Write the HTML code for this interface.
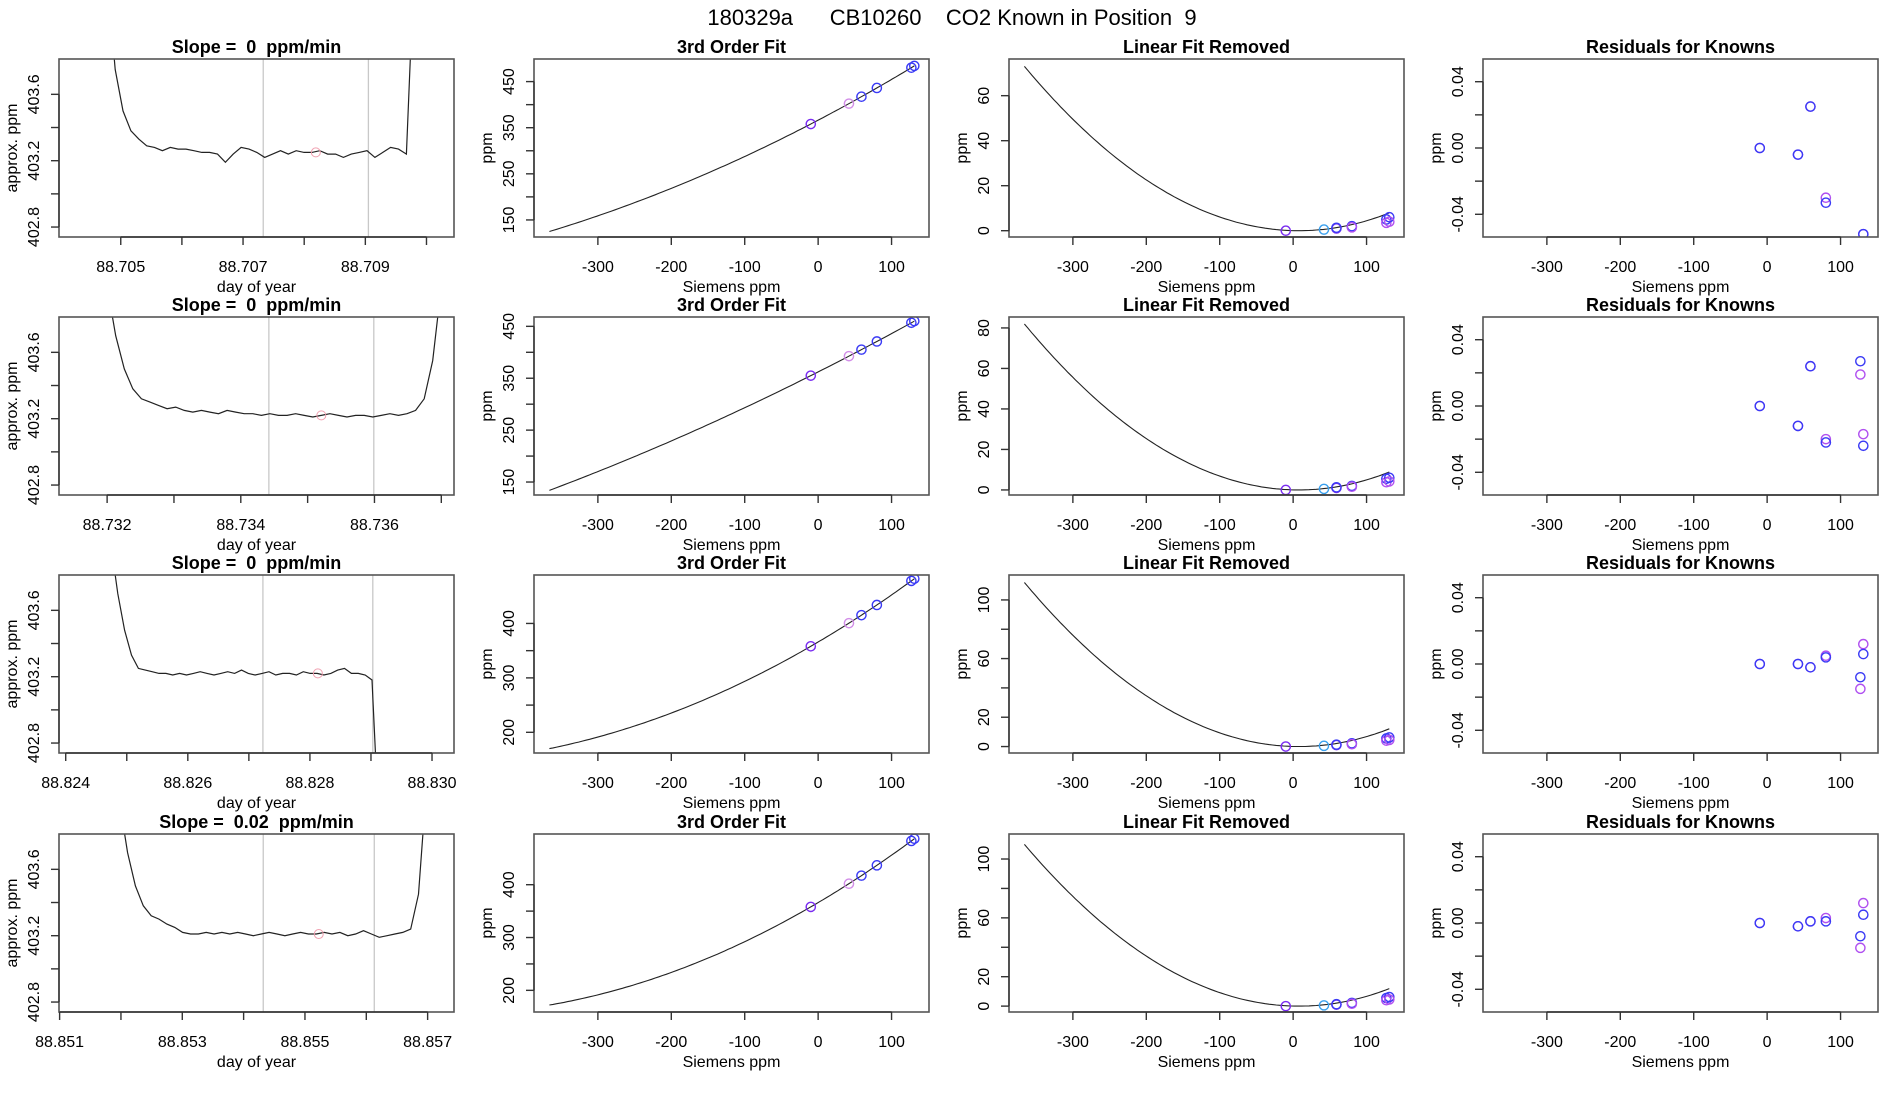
<!DOCTYPE html>
<html><head><meta charset="utf-8">
<style>
html,body{margin:0;padding:0;background:#fff;}
svg{display:block;font-family:"Liberation Sans",Arial,sans-serif;}
text{white-space:pre;}
</style></head>
<body>
<svg id="chart" width="1900" height="1100" viewBox="0 0 1900 1100" xmlns="http://www.w3.org/2000/svg" xml:space="preserve">
<rect x="0" y="0" width="1900" height="1100" fill="#fff"/>
<text x="952" y="25" font-size="22" text-anchor="middle" fill="#000">180329a      CB10260    CO2 Known in Position  9</text>
</svg>
<script>
// ---------- data ----------
const slopeTitles = ["Slope =  0  ppm/min","Slope =  0  ppm/min","Slope =  0  ppm/min","Slope =  0.02  ppm/min"];
const timeDomains = [[88.70399,88.71045],[88.73128,88.73719],[88.82389,88.83036],[88.85099,88.85743]];
const timeTicks = [
 [88.705,88.706,88.707,88.708,88.709,88.710],
 [88.732,88.733,88.734,88.735,88.736,88.737],
 [88.824,88.825,88.826,88.827,88.828,88.829,88.830],
 [88.851,88.852,88.853,88.854,88.855,88.856,88.857]];
const timeTickLabels = [
 ["88.705","","88.707","","88.709",""],
 ["88.732","","88.734","","88.736",""],
 ["88.824","","88.826","","88.828","","88.830"],
 ["88.851","","88.853","","88.855","","88.857"]];
const traceStart = [88.70478,88.73200,88.82474,88.85198];
const traceEnd = [88.70980,88.73700,88.82913,88.85698];
const traceValues1 = [404.3,403.75,403.5,403.38,403.33,403.29,403.28,403.26,403.28,403.27,403.27,403.26,403.25,403.25,403.24,403.19,403.24,403.28,403.27,403.25,403.22,403.24,403.26,403.24,403.26,403.25,403.25,403.26,403.24,403.24,403.22,403.24,403.25,403.26,403.22,403.25,403.28,403.27,403.24,404.4];
const traceValues2 = [404.0,403.7,403.5,403.38,403.32,403.3,403.28,403.26,403.27,403.25,403.24,403.25,403.24,403.23,403.25,403.24,403.23,403.23,403.22,403.23,403.22,403.22,403.23,403.22,403.21,403.22,403.23,403.22,403.21,403.22,403.22,403.21,403.22,403.23,403.22,403.23,403.25,403.32,403.55,404.0];
const traceValues3 = [404.0,403.7,403.48,403.33,403.25,403.24,403.23,403.22,403.22,403.21,403.22,403.21,403.22,403.23,403.22,403.21,403.22,403.23,403.22,403.24,403.22,403.21,403.22,403.23,403.21,403.22,403.22,403.21,403.23,403.22,403.22,403.21,403.22,403.24,403.25,403.22,403.22,403.21,403.18,402.3];
const traceValues4 = [404.0,403.7,403.5,403.38,403.32,403.3,403.27,403.25,403.22,403.21,403.21,403.22,403.21,403.22,403.21,403.22,403.21,403.2,403.21,403.22,403.21,403.2,403.21,403.22,403.21,403.21,403.22,403.21,403.22,403.2,403.21,403.23,403.21,403.19,403.2,403.21,403.22,403.24,403.45,404.1];
const gateLines = [[88.70733,88.70905],[88.73442,88.73599],[88.82723,88.82903],[88.85432,88.85613]];
const concDomain = [402.74,403.813];
const concTicks = [402.8,403.0,403.2,403.4,403.6];
const concTickLabels = ["402.8","","403.2","","403.6"];

const siemensDomain = [-387,151];
const siemensTicks = [-300,-200,-100,0,100];
const siemensTickLabels = ["-300","-200","-100","0","100"];
const curveRange = [-366,131];
const fitCoefA = [366.3,362.1,365.9,366.1];
const fitCoefB = [0.8355,0.7145,0.794,0.819];
const fitCoefC = [0.000481,0.000249,0.000707,0.00079];
const fitDomains = [[113,499],[125,468],[162,489],[159,496]];
const fitTicks = [[150,200,250,300,350,400,450],[150,200,250,300,350,400,450],[200,250,300,350,400],[200,250,300,350,400]];
const fitTickLabels = [["150","","250","","350","","450"],["150","","250","","350","","450"],["200","","300","","400"],["200","","300","","400"]];

const knownX = [-10,42,59,80,127,131];
const knownColors = ["#7a2cf0","#d28ee8","#3a3af5","#3a3af5","#3a3af5","#3a3af5"];

const quadCoef = [0.000522,0.000586,0.0008,0.000786];
const quadCenter = 8;
const linDomains = [[-2.8,76.3],[-2.5,85.4],[-4.4,117],[-4,117]];
const linTicks = [[0,20,40,60],[0,20,40,60,80],[0,20,40,60,80,100],[0,20,40,60,80,100]];
const linTickLabels = [["0","20","40","60"],["0","20","40","60","80"],["0","20","","60","","100"],["0","20","","60","","100"]];
const linPointX = [-10,42,59,59,80,80,127,127,131,131];
const linPointY = [[0,0.5,1,1.3,2,1.5,5,3.5,6,4],[0,0.5,1,1.3,2,1.6,5.5,3.8,6,4.2],[0,0.5,1,1.3,2.2,1.6,5.5,4,6.2,4.5],[0,0.5,1,1.3,2.2,1.6,5.5,4,6.2,4.5]];
const linPointColors = ["#7a2cf0","#3aa0ee","#7a2cf0","#3a3af5","#3a3af5","#b050f0","#3a3af5","#b050f0","#3a3af5","#b050f0"];

const resDomain = [-0.0537,0.0537];
const resTicks = [-0.04,-0.02,0,0.02,0.04];
const resTickLabels = ["-0.04","","0.00","","0.04"];
const resX = [-10,-10,42,42,59,59,80,80,127,127,131,131];
const resY1 = [0.0,0.0,-0.004,-0.004,0.025,0.025,-0.030,-0.033,null,null,-0.052,-0.052];
const resY2 = [0.0,0.0,-0.012,-0.012,0.024,0.024,-0.020,-0.022,0.027,0.019,-0.017,-0.024];
const resY3 = [0.0,0.0,0.0,0.0,-0.002,-0.002,0.005,0.004,-0.008,-0.015,0.012,0.006];
const resY4 = [0.0,0.0,-0.002,-0.002,0.001,0.001,0.003,0.001,-0.008,-0.015,0.012,0.005];
const resColors = ["#b050f0","#3a3af5","#b050f0","#3a3af5","#b050f0","#3a3af5","#b050f0","#3a3af5","#3a3af5","#b050f0","#b050f0","#3a3af5"];

// ---------- layout ----------
const colLeft = [59,534,1009,1483];
const boxW = 395, boxH = 178;
const rowTop = [59,317,575,834];
const NS = "http://www.w3.org/2000/svg";
const svg = document.getElementById('chart');
let clipId = 0;

function mk(tag, attrs, parent){
  const e = document.createElementNS(NS, tag);
  for (const k in attrs) e.setAttribute(k, attrs[k]);
  (parent||svg).appendChild(e);
  return e;
}
function scale(d, r){ return v => r[0] + (v - d[0]) / (d[1] - d[0]) * (r[1] - r[0]); }

function panel(r, c, title, xd, yd, xt, xtl, yt, ytl, xlab, ylab){
  const L = colLeft[c], T = rowTop[r];
  const g = mk('g', {});
  
  
  const sx = scale(xd, [L, L+boxW]);
  const sy = scale(yd, [T+boxH, T]);
  const id = 'clip' + (clipId++);
  const cp = mk('clipPath', {id: id}, g);
  mk('rect', {x: L, y: T, width: boxW, height: boxH}, cp);
  const plot = mk('g', {'clip-path': 'url(#' + id + ')'}, g);
  
  
  const box = mk('rect', {x: L, y: T, width: boxW, height: boxH, fill: 'none', stroke: '#555', 'stroke-width': 1.6}, g);
  
  
  const tt = mk('text', {x: L + boxW/2, y: T - 6, 'font-size': 18, 'font-weight': 'bold', 'text-anchor': 'middle'}, g);
  tt.textContent = title;
  
  
  const xa = mk('g', {}, g);
  
  
  const xpos = xt.map(sx);
  mk('line', {x1: xpos[0], x2: xpos[xpos.length-1], y1: T+boxH, y2: T+boxH, stroke: '#333', 'stroke-width': 1.4}, xa);
  xt.forEach((v, i) => {
    const x = sx(v);
    mk('line', {x1: x, x2: x, y1: T+boxH, y2: T+boxH+8, stroke: '#333', 'stroke-width': 1.4}, xa);
    if (xtl[i]) {
      const t = mk('text', {x: x, y: T+boxH+35, 'font-size': 16, 'text-anchor': 'middle'}, xa);
      t.textContent = xtl[i];
      
      
    }
  });
  const xl = mk('text', {x: L + boxW/2, y: T+boxH+55, 'font-size': 16, 'text-anchor': 'middle'}, xa);
  xl.textContent = xlab;
  
  
  const ya = mk('g', {}, g);
  
  
  const ypos = yt.map(sy);
  mk('line', {x1: L, x2: L, y1: ypos[0], y2: ypos[ypos.length-1], stroke: '#333', 'stroke-width': 1.4}, ya);
  yt.forEach((v, i) => {
    const y = sy(v);
    mk('line', {x1: L-8, x2: L, y1: y, y2: y, stroke: '#333', 'stroke-width': 1.4}, ya);
    if (ytl[i]) {
      const t = mk('text', {x: L-20, y: y, 'font-size': 16, 'text-anchor': 'middle', transform: 'rotate(-90 ' + (L-20) + ' ' + y + ')'}, ya);
      t.textContent = ytl[i];
      
      
    }
  });
  const yx = L - 42, yy = T + boxH/2;
  const yl = mk('text', {x: yx, y: yy, 'font-size': 16, 'text-anchor': 'middle', transform: 'rotate(-90 ' + yx + ' ' + yy + ')'}, ya);
  yl.textContent = ylab;
  
  
  return {plot, sx, sy};
}

function circle(p, parent, x, y, color){
  const c = mk('circle', {cx: x, cy: y, r: 4.6, fill: 'none', stroke: color, 'stroke-width': 1.4}, parent);
  
  
  return c;
}

const traces = [traceValues1, traceValues2, traceValues3, traceValues4];
const resSets = [resY1, resY2, resY3, resY4];

for (let r = 0; r < 4; r++) {
  {
    const p = panel(r, 0, slopeTitles[r], timeDomains[r], concDomain, timeTicks[r], timeTickLabels[r], concTicks, concTickLabels, 'day of year', 'approx. ppm');
    gateLines[r].forEach(t => {
      const l = mk('line', {x1: p.sx(t), x2: p.sx(t), y1: rowTop[r], y2: rowTop[r]+boxH, stroke: '#c8c8c8', 'stroke-width': 1.3}, p.plot);
      
      
    });
    const vals = traces[r];
    const n = vals.length;
    const pts = vals.map((v, i) => {
      const t = traceStart[r] + (traceEnd[r] - traceStart[r]) * i / (n - 1);
      return p.sx(t).toFixed(1) + ',' + p.sy(v).toFixed(1);
    }).join(' ');
    const pl = mk('polyline', {points: pts, fill: 'none', stroke: '#222', 'stroke-width': 1.2}, p.plot);
    
    
    const mid = (gateLines[r][0] + gateLines[r][1]) / 2;
    const mi = Math.round((mid - traceStart[r]) / (traceEnd[r] - traceStart[r]) * (n - 1));
    const mc = mk('circle', {cx: p.sx(mid), cy: p.sy(vals[mi]), r: 4.5, fill: 'none', stroke: '#f0a0b0', 'stroke-width': 1}, p.plot);
    
    
  }
  {
    const p = panel(r, 1, '3rd Order Fit', siemensDomain, fitDomains[r], siemensTicks, siemensTickLabels, fitTicks[r], fitTickLabels[r], 'Siemens ppm', 'ppm');
    const f = x => fitCoefA[r] + fitCoefB[r]*x + fitCoefC[r]*x*x;
    const pts = [];
    for (let k = 0; k <= 100; k++) { const x = curveRange[0] + (curveRange[1]-curveRange[0])*k/100; pts.push(p.sx(x).toFixed(1) + ',' + p.sy(f(x)).toFixed(1)); }
    const pl = mk('polyline', {points: pts.join(' '), fill: 'none', stroke: '#222', 'stroke-width': 1.1}, p.plot);
    
    
    knownX.forEach((x, i) => circle(p, p.plot, p.sx(x), p.sy(f(x)), knownColors[i]));
  }
  {
    const p = panel(r, 2, 'Linear Fit Removed', siemensDomain, linDomains[r], siemensTicks, siemensTickLabels, linTicks[r], linTickLabels[r], 'Siemens ppm', 'ppm');
    const f = x => quadCoef[r] * (x - quadCenter) * (x - quadCenter);
    const pts = [];
    for (let k = 0; k <= 100; k++) { const x = curveRange[0] + (curveRange[1]-curveRange[0])*k/100; pts.push(p.sx(x).toFixed(1) + ',' + p.sy(f(x)).toFixed(1)); }
    const pl = mk('polyline', {points: pts.join(' '), fill: 'none', stroke: '#222', 'stroke-width': 1.1}, p.plot);
    
    
    linPointX.forEach((x, i) => circle(p, p.plot, p.sx(x), p.sy(linPointY[r][i]), linPointColors[i]));
  }
  {
    const p = panel(r, 3, 'Residuals for Knowns', siemensDomain, resDomain, siemensTicks, siemensTickLabels, resTicks, resTickLabels, 'Siemens ppm', 'ppm');
    resX.forEach((x, i) => {
      const v = resSets[r][i];
      if (v === null) return;
      circle(p, p.plot, p.sx(x), p.sy(v), resColors[i]);
    });
  }
}
</script>
</body></html>
